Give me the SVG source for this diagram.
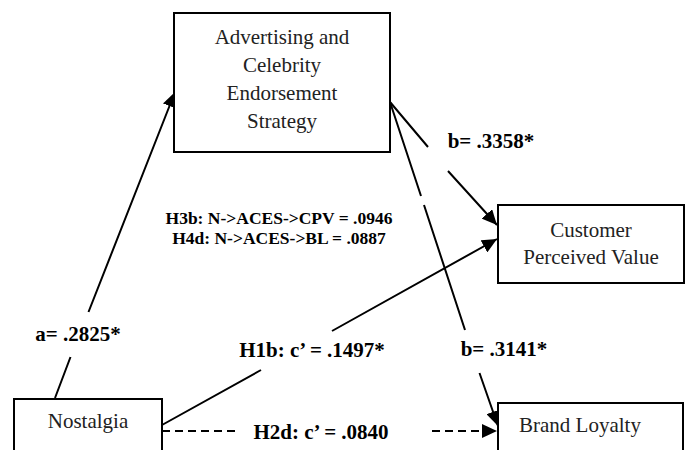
<svg xmlns="http://www.w3.org/2000/svg" width="691" height="450" viewBox="0 0 691 450">
<style>
.box{fill:#fff;stroke:#000;stroke-width:2}
.nt{font-family:"Liberation Serif","Times New Roman",serif;font-size:21px;fill:#222;text-anchor:middle}
.lb{font-family:"Liberation Serif","Times New Roman",serif;font-size:21px;font-weight:bold;fill:#000;text-anchor:middle}
.sm{font-family:"Liberation Serif","Times New Roman",serif;font-size:17.5px;font-weight:bold;fill:#000;text-anchor:middle}
.ln{fill:none;stroke:#000;stroke-width:2;marker-end:url(#ah)}
.dash{stroke-dasharray:8 5}
</style>
<defs>
<marker id="ah" markerUnits="userSpaceOnUse" markerWidth="16" markerHeight="14" refX="15" refY="7" orient="auto">
<path d="M0,0 L15,7 L0,14 z" fill="#000"/>
</marker>
</defs>
<g id="connectors">
<path class="ln" d="M55 398 L70.5 357 M88.5 312 L175 92"/>
<path class="ln" d="M390 102 L428 147 M448 171 L497 225"/>
<path class="ln" d="M390 102 L421 196 M424 205 L465 330 M479.5 373 L498 426"/>
<path class="ln" d="M162 425 L261 370 M332 331 L497 239"/>
<path class="ln dash" d="M162 431 L236 431 M432 431 L497 431"/>
</g>
<g id="aces">
<rect class="box" x="174" y="13" width="216" height="139"/>
<text class="nt" x="282" y="44">Advertising and</text>
<text class="nt" x="282" y="72">Celebrity</text>
<text class="nt" x="282" y="100">Endorsement</text>
<text class="nt" x="282" y="128">Strategy</text>
</g>
<g id="cpv">
<rect class="box" x="498" y="205" width="186" height="78"/>
<text class="nt" x="591" y="237">Customer</text>
<text class="nt" x="591" y="264">Perceived Value</text>
</g>
<g id="nostalgia">
<rect class="box" x="14" y="399" width="148" height="60"/>
<text class="nt" x="88" y="428">Nostalgia</text>
</g>
<g id="bl">
<rect class="box" x="498" y="403" width="185" height="60"/>
<text class="nt" x="580" y="432">Brand Loyalty</text>
</g>
<g id="labels">
<text class="lb" x="78" y="341">a= .2825*</text>
<text class="lb" x="491" y="148">b= .3358*</text>
<text class="lb" x="504" y="356">b= .3141*</text>
<text class="lb" x="312" y="357">H1b: c’ = .1497*</text>
<text class="lb" x="321" y="439">H2d: c’ = .0840</text>
<text class="sm" x="279" y="224">H3b: N-&gt;ACES-&gt;CPV = .0946</text>
<text class="sm" x="279" y="244">H4d: N-&gt;ACES-&gt;BL = .0887</text>
</g>
</svg>
